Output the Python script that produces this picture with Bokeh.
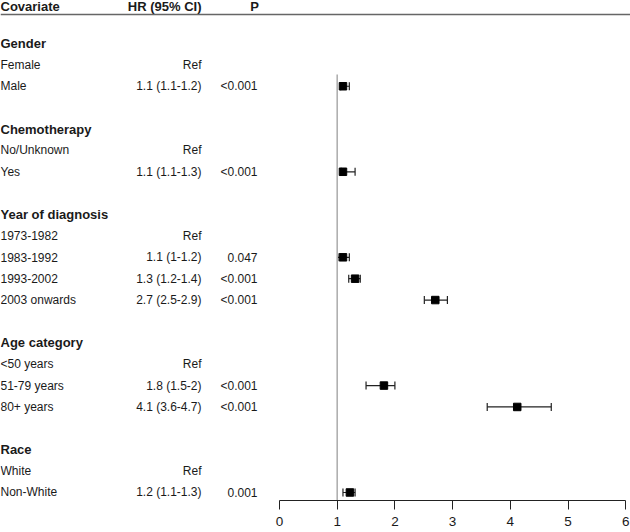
import math
from bokeh.plotting import figure
from bokeh.models import Range1d, LinearAxis, FixedTicker, ColumnDataSource, Whisker, TeeHead
from bokeh.core.properties import value
from bokeh.embed import file_html
from bokeh.resources import INLINE

# ---------------- data ----------------
groups = ["Gender", "Chemotherapy", "Year of diagnosis", "Age category", "Race"]
group_sizes = [2, 2, 4, 3, 2]
labels = ["Female", "Male", "No/Unknown", "Yes", "1973-1982", "1983-1992",
          "1993-2002", "2003 onwards", "<50 years", "51-79 years", "80+ years",
          "White", "Non-White"]
hr_text = ["Ref", "1.1 (1.1-1.2)", "Ref", "1.1 (1.1-1.3)", "Ref", "1.1 (1-1.2)",
           "1.3 (1.2-1.4)", "2.7 (2.5-2.9)", "Ref", "1.8 (1.5-2)", "4.1 (3.6-4.7)",
           "Ref", "1.2 (1.1-1.3)"]
p_text = ["", "<0.001", "", "<0.001", "", "0.047", "<0.001", "<0.001", "",
          "<0.001", "<0.001", "", "0.001"]
nan = float("nan")
hr = [nan, 1.10, nan, 1.10, nan, 1.10, 1.31, 2.70, nan, 1.81, 4.12, nan, 1.22]
lo = [nan, 1.06, nan, 1.07, nan, 1.01, 1.20, 2.51, nan, 1.50, 3.60, nan, 1.10]
hi = [nan, 1.21, nan, 1.31, nan, 1.21, 1.40, 2.91, nan, 2.00, 4.71, nan, 1.31]
col_headers = ["Covariate", "HR (95% CI)", "P"]
x_ticks = [0, 1, 2, 3, 4, 5, 6]

# ---------------- layout helpers ----------------
W, H = 630, 532
PX0, PX_PER = 279.0, 57.7           # pixel of x=0 inside frame, pixels per unit
def px(xpix):                        # frame pixel -> data x
    return (xpix - PX0) / PX_PER

FONT = value("Liberation Sans")
TXT = "#1a1a1a"

# rows
row_y = []
head_y = []
r = 0
for g, n in zip(groups, group_sizes):
    head_y.append(r)
    r += 1
    for _ in range(n):
        row_y.append(r)
        r += 1
    r += 1

Y_BOT, Y_TOP = 21.375, -2.011
p = figure(width=W, height=H, output_backend="svg", toolbar_location=None,
           x_axis_type=None, y_axis_type=None,
           x_range=Range1d(px(0), px(W)), y_range=Range1d(Y_BOT, Y_TOP),
           min_border_left=0, min_border_right=0, min_border_top=0, min_border_bottom=32)
p.grid.visible = False
p.outline_line_color = None
p.background_fill_color = "white"

# header row
hdr_y = -1.73
p.text(x=[px(0)], y=[hdr_y], text=[col_headers[0]], text_font=FONT, text_font_size="13px",
       text_font_style="bold", text_color=TXT, text_baseline="middle", text_align="left")
p.text(x=[px(201)], y=[hdr_y], text=[col_headers[1]], text_font=FONT, text_font_size="13px",
       text_font_style="bold", text_color=TXT, text_baseline="middle", text_align="right")
p.text(x=[px(254)], y=[hdr_y], text=[col_headers[2]], text_font=FONT, text_font_size="13px",
       text_font_style="bold", text_color=TXT, text_baseline="middle", text_align="center")
p.segment(x0=[px(0)], x1=[px(W)], y0=[-1.356], y1=[-1.356], line_color="#666666", line_width=1.6)

# group titles
p.text(x=[px(0)] * len(groups), y=head_y, text=groups, text_font=FONT, text_font_size="13px",
       text_font_style="bold", text_color=TXT, text_baseline="middle", text_align="left")

# row labels and columns
src = ColumnDataSource(dict(y=row_y, lab=labels, hrt=hr_text, pt=p_text,
                            xl=[px(0)] * len(labels), xh=[px(201)] * len(labels),
                            xp=[px(257)] * len(labels)))
p.text(x="xl", y="y", text="lab", source=src, text_font=FONT, text_font_size="12px",
       text_color=TXT, text_baseline="middle", text_align="left")
p.text(x="xh", y="y", text="hrt", source=src, text_font=FONT, text_font_size="12px",
       text_color=TXT, text_baseline="middle", text_align="right")
p.text(x="xp", y="y", text="pt", source=src, text_font=FONT, text_font_size="12px",
       text_color=TXT, text_baseline="middle", text_align="right")

# reference line at HR = 1
first_est = min(y for y, v in zip(row_y, hr) if not math.isnan(v))
p.segment(x0=[1], x1=[1], y0=[first_est - 0.55], y1=[Y_BOT], line_color="#b0b0b0", line_width=1.6)

# estimates
idx = [i for i, v in enumerate(hr) if not math.isnan(v)]
est = ColumnDataSource(dict(y=[row_y[i] for i in idx], hr=[hr[i] for i in idx],
                            lo=[lo[i] for i in idx], hi=[hi[i] for i in idx]))
wh = Whisker(source=est, base="y", lower="lo", upper="hi", dimension="width",
             line_color="#222222", line_width=1.2,
             lower_head=TeeHead(size=8, line_color="#222222", line_width=1.2),
             upper_head=TeeHead(size=8, line_color="#222222", line_width=1.2))
p.add_layout(wh)
p.scatter(x="hr", y="y", source=est, marker="square", size=7.5, fill_color="black",
          line_color="black")

# x axis
ax = LinearAxis(ticker=FixedTicker(ticks=x_ticks), bounds=(0, 6))
ax.axis_line_color = "#222222"
ax.major_tick_line_color = "#222222"
ax.major_tick_out = 9
ax.major_tick_in = 0
ax.minor_tick_line_color = None
ax.major_label_text_font = "Liberation Sans"
ax.major_label_text_font_size = "13.5px"
ax.major_label_text_color = TXT
ax.major_label_standoff = 7
p.add_layout(ax, "below")

open("out.html", "w").write(file_html(p, INLINE))
